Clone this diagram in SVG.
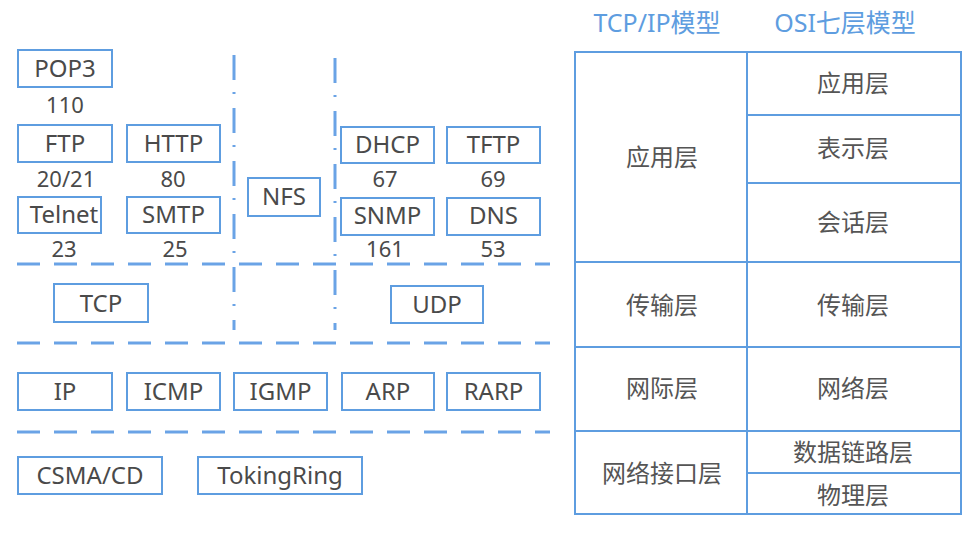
<svg xmlns="http://www.w3.org/2000/svg" width="975" height="533" viewBox="0 0 975 533">
<style>
.b{fill:#fff;stroke:#5e9de0;stroke-width:2}
.t{font-family:"Noto Sans","Noto Sans CJK SC",sans-serif;font-size:24px;fill:#4a4a4a;text-anchor:middle}
.n{font-family:"Noto Sans","Noto Sans CJK SC",sans-serif;font-size:22px;fill:#4a4a4a;text-anchor:middle}
.c{font-family:"Noto Sans CJK SC","Noto Sans",sans-serif;font-size:24px;fill:#555;text-anchor:middle}
.h{font-family:"Noto Sans","Noto Sans CJK SC",sans-serif;font-size:25px;fill:#5e9de0;text-anchor:middle}
.dh{stroke:#6aa3e6;stroke-width:3;stroke-dasharray:23 14;fill:none}
.dv{stroke:#6aa3e6;stroke-width:3;stroke-dasharray:25 12 2 14;fill:none}
.g{stroke:#5e9de0;stroke-width:2;fill:none}
</style>
<rect width="975" height="533" fill="#fff"/>
<g id="connectors">
<line class="dh" x1="17" y1="264" x2="550" y2="264"/>
<line class="dh" x1="17" y1="343" x2="550" y2="343"/>
<line class="dh" x1="17" y1="432" x2="550" y2="432"/>
<line class="dv" x1="234" y1="55" x2="234" y2="330"/>
<line class="dv" x1="335" y1="58" x2="335" y2="330"/>
</g>
<g id="pop3"><rect class="b" x="18" y="50" width="94" height="37"/><text class="t" x="65" y="77">POP3</text><text class="n" x="65" y="113">110</text></g>
<g id="ftp"><rect class="b" x="18" y="125" width="94" height="37"/><text class="t" x="65" y="152">FTP</text><text class="n" x="66" y="187">20/21</text></g>
<g id="http"><rect class="b" x="127" y="125" width="93" height="37"/><text class="t" x="173.5" y="152">HTTP</text><text class="n" x="173" y="187">80</text></g>
<g id="telnet"><rect class="b" x="18" y="197" width="83" height="36"/><text class="t" x="64" y="223">Telnet</text><text class="n" x="64" y="257">23</text></g>
<g id="smtp"><rect class="b" x="127" y="197" width="93" height="36"/><text class="t" x="173.5" y="223">SMTP</text><text class="n" x="175" y="257">25</text></g>
<g id="nfs"><rect class="b" x="248" y="178" width="72" height="38"/><text class="t" x="284" y="205">NFS</text></g>
<g id="dhcp"><rect class="b" x="341" y="127" width="93" height="36"/><text class="t" x="387.5" y="153">DHCP</text><text class="n" x="385" y="187">67</text></g>
<g id="tftp"><rect class="b" x="447" y="127" width="93" height="36"/><text class="t" x="493.5" y="153">TFTP</text><text class="n" x="493" y="187">69</text></g>
<g id="snmp"><rect class="b" x="341" y="198" width="93" height="37"/><text class="t" x="387.5" y="224">SNMP</text><text class="n" x="385" y="257">161</text></g>
<g id="dns"><rect class="b" x="447" y="198" width="93" height="37"/><text class="t" x="493.5" y="224">DNS</text><text class="n" x="493" y="257">53</text></g>
<g id="tcp"><rect class="b" x="54" y="284" width="94" height="38"/><text class="t" x="101" y="311.5">TCP</text></g>
<g id="udp"><rect class="b" x="391" y="286" width="92" height="37"/><text class="t" x="437" y="313">UDP</text></g>
<g id="ip"><rect class="b" x="18" y="373" width="94" height="37"/><text class="t" x="65" y="400">IP</text></g>
<g id="icmp"><rect class="b" x="127" y="373" width="93" height="37"/><text class="t" x="173.5" y="400">ICMP</text></g>
<g id="igmp"><rect class="b" x="234" y="373" width="93" height="37"/><text class="t" x="280.5" y="400">IGMP</text></g>
<g id="arp"><rect class="b" x="342" y="373" width="92" height="37"/><text class="t" x="388" y="400">ARP</text></g>
<g id="rarp"><rect class="b" x="447" y="373" width="93" height="37"/><text class="t" x="493.5" y="400">RARP</text></g>
<g id="csma"><rect class="b" x="18" y="457" width="144" height="37"/><text class="t" x="90" y="484">CSMA/CD</text></g>
<g id="token"><rect class="b" x="198" y="457" width="164" height="37"/><text class="t" x="280" y="484">TokingRing</text></g>
<g id="table">
<text class="h" x="657" y="32">TCP/IP模型</text>
<text class="h" x="845" y="32">OSI七层模型</text>
<rect class="g" x="575" y="52" width="386" height="462"/>
<line class="g" x1="747" y1="52" x2="747" y2="514"/>
<line class="g" x1="747" y1="115" x2="961" y2="115"/>
<line class="g" x1="747" y1="183" x2="961" y2="183"/>
<line class="g" x1="575" y1="262" x2="961" y2="262"/>
<line class="g" x1="575" y1="347" x2="961" y2="347"/>
<line class="g" x1="575" y1="431" x2="961" y2="431"/>
<line class="g" x1="747" y1="473" x2="961" y2="473"/>
<text class="c" x="662" y="166">应用层</text>
<text class="c" x="853" y="92">应用层</text>
<text class="c" x="853" y="157">表示层</text>
<text class="c" x="853" y="231">会话层</text>
<text class="c" x="662" y="314">传输层</text>
<text class="c" x="853" y="314">传输层</text>
<text class="c" x="662" y="397">网际层</text>
<text class="c" x="853" y="397">网络层</text>
<text class="c" x="662" y="482">网络接口层</text>
<text class="c" x="853" y="461">数据链路层</text>
<text class="c" x="853" y="504">物理层</text>
</g>
</svg>
